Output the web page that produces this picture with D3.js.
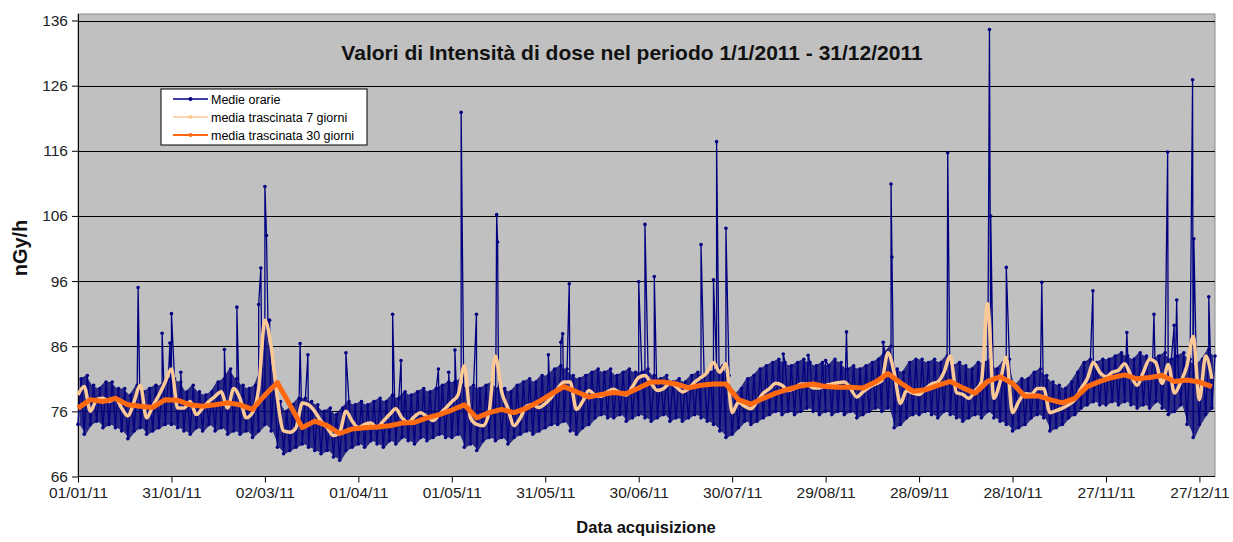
<!DOCTYPE html>
<html>
<head>
<meta charset="utf-8">
<script src="https://cdn.jsdelivr.net/npm/d3@7"></script>
<style>
  body { margin: 0; background: #fff; }
  svg text { font-family: "Liberation Sans", Arial, sans-serif; }
</style>
</head>
<body>
<div id="grafico"></div>
<script>
// giorni campionati ogni 2 giorni (0..364): minimi e massimi delle medie orarie
var minimi = [
  74, 72.5, 74, 74.5, 73.5, 74, 73.5, 73, 71.8, 73, 73.5, 72.5, 73, 73.5, 74,
  74, 73.5, 73, 72.5, 73.5, 73, 74, 73, 73.5, 72.5, 73, 72.5, 73, 72, 73,
  74, 73, 70.5, 69.5, 70, 70.5, 71, 70.5, 70, 69.5, 70, 69, 68.5, 70, 70.5,
  71, 70.5, 71.5, 71, 70.5, 71.5, 71, 72, 71.5, 71, 72, 71.5, 72, 72.5, 72,
  72, 72.5, 70.5, 71, 70, 71.5, 72, 71.5, 72, 71, 72, 72.5, 73, 72.5, 73,
  73.5, 74, 74, 74.5, 73, 72.5, 73.5, 74, 75, 75.5, 75, 75, 75.5, 74.5, 75,
  75.5, 75, 74.5, 75, 75.5, 74.5, 75, 74.5, 75, 75.5, 75, 74.5, 74, 73, 72,
  72.5, 73.5, 74.5, 74, 74.5, 75, 75.5, 76, 75.5, 76, 75.5, 76, 76.5, 76, 75.5,
  76, 75.5, 76, 75.5, 76, 75, 75.5, 76, 76.5, 76, 76.5, 73.5, 74, 75, 75.5,
  75.5, 76, 75.5, 75, 76, 75.5, 75, 74.5, 75, 75.5, 75, 76, 75, 74.5, 74,
  73, 73.5, 74, 75, 75.5, 75, 73, 73.5, 74, 75, 75.5, 76.5, 77, 77.5, 77,
  77, 77.5, 77, 77.5, 77, 76.5, 77, 76.5, 77.5, 76.5, 75.5, 76, 77, 74, 72,
  74, 75.5, 76.5
];
var massimi = [
  81, 81.5, 80, 79.5, 80.5, 80.5, 79.5, 79.5, 78.5, 80, 79, 79.5, 80, 80, 81,
  81, 80.5, 79, 80, 79, 78.5, 79, 80.5, 81, 82.5, 81, 80, 79.5, 80, 82.5,
  89, 82, 77.5, 76, 77, 78, 78, 77.5, 77, 76, 76.5, 75.5, 76.5, 77.5, 77,
  77.5, 77, 77.5, 78, 77.5, 78.5, 78, 79, 78.5, 79, 79.5, 79, 79.5, 80, 80.5,
  80.5, 81, 79.5, 80, 79.5, 80, 80.5, 79.5, 79.5, 79, 80, 80.5, 81, 80.5, 81.5,
  81.5, 82.5, 83, 82.5, 81.5, 81, 81.5, 82, 82.5, 82, 82.5, 81.5, 82, 82.5, 82,
  82, 82.5, 81.5, 81, 81.5, 80.5, 81, 80.5, 81.5, 82, 81.5, 82, 82.5, 83, 81.5,
  78.5, 79.5, 81, 81.5, 82.5, 83, 83.5, 84, 83.5, 83, 83.5, 84, 83.5, 83, 83.5,
  83, 84, 83.5, 82.5, 83, 82.5, 83, 83.5, 84, 85, 86, 82.5, 82, 83.5, 84,
  84, 83.5, 84, 83.5, 84.5, 83, 83.5, 83, 82.5, 83.5, 83.5, 84, 82.5, 83.5, 84,
  80, 81, 81, 82, 82.5, 81.5, 80.5, 80, 79.5, 80.5, 82, 83.5, 84, 83.5, 84,
  84, 84.5, 85, 84.5, 84, 85, 84.5, 84, 84.5, 85, 84, 84.5, 85, 84, 83,
  84, 85.5, 84.5
];
// picchi delle medie orarie (giorno dell'anno, valore)
var giorniPicco = [19.3, 27, 29.5, 30, 33, 47, 51, 58, 58.7, 60, 60.5, 61.5, 71.3, 73.8, 86,
  101, 103.7, 115.7, 119, 121, 123, 127.9, 134.4, 134.7, 151, 155, 155.6, 157.7,
  180, 182, 185, 200, 204, 205, 208, 226.4, 234.4, 240, 246.7, 258.5, 261, 261.3,
  279.2, 292.6, 293, 298, 309.4, 325.8, 336.7, 345.4, 349.8, 351.9, 352.7, 357.8, 358.2, 363];
var valoriPicco = [95, 88, 86.5, 91, 82, 85.5, 92, 92.4, 98, 110.5, 103, 90, 86.4, 84.7, 85,
  90.9, 83.8, 82.5, 82, 85.4, 121.9, 90.9, 106.2, 102, 84.7, 86.6, 87.9, 95.6,
  95.9, 104.7, 96.7, 101.6, 96.2, 117.4, 104.1, 84.8, 84.6, 83.8, 88.2, 86.6, 110.9, 99.7,
  115.7, 134.6, 106, 98.1, 95.8, 94.5, 88.1, 90.9, 115.8, 89.2, 93.1, 126.9, 102.5, 93.6];
// media trascinata 7 giorni, ogni 2 giorni
var media7 = [
  78.5, 79.8, 76, 77.8, 78, 77.5, 78, 76.5, 75.3, 77.5, 80, 75, 76.8, 78.5, 80.5,
  82.5, 76.5, 76.5, 77.5, 75.5, 76.5, 77.5, 78.3, 79, 76.5, 79.5, 78, 75, 75.8, 79.5,
  90, 86, 78, 73, 72.8, 73.5, 77.3, 77, 76, 74.5, 73.5, 72.3, 72.8, 76, 74.5,
  73.5, 74, 74.2, 73.5, 74.5, 75.5, 76.4, 75, 74.3, 75.2, 75.8, 75.2, 74.6, 75.5, 76.5,
  77.5, 78.5, 83, 75, 74, 73.8, 76, 84.5, 79, 76.5, 73.8, 75, 76.8, 77, 76.6,
  77.2, 78.2, 79.5, 80.5, 80.5, 76.3, 77.5, 79.2, 78.5, 78.3, 79, 79.4, 78.8, 78.5, 79.8,
  81.2, 81.5, 80.3, 79.2, 79.5, 80.3, 79.8, 79, 79.5, 80.5, 81.2, 82, 83.5, 82, 83.3,
  75.8, 77.4, 76.8, 76.4, 77.5, 78.8, 79.5, 80.3, 80, 79.2, 79.5, 80.2, 80.2, 79.6, 79.6,
  80, 80.2, 80.4, 80.5, 79.5, 78.2, 79, 79.7, 80.2, 80.7, 85, 82, 77.2, 79.2, 78.8,
  78.6, 79.4, 80.2, 80.5, 82, 84.5, 78.9, 78.6, 78, 79.2, 80.5, 92.5, 78, 80.5, 84.3,
  75.8, 77.5, 78.7, 78.6, 79.5, 79.5, 75.8, 76.1, 76.5, 77, 77.8, 79.5, 81, 83.5, 82,
  81.3, 82, 82.3, 83.3, 81.5, 80, 82, 84, 83.5, 80.3, 83.2, 78.8, 80.5, 83, 87.5,
  77.8, 84.5, 81
];
// media trascinata 30 giorni, ogni 4 giorni
var media30 = [
  76.5, 77.8, 77.5, 78, 77, 76.8, 76.6, 77.8, 77.7, 77, 76.8, 77, 77.3, 77, 76.3,
  78.5, 80.4, 77, 73.5, 74.5, 73.8, 72.6, 73.3, 73.5, 73.6, 73.8, 74.2, 74.3, 75, 75.5,
  76.2, 77, 75, 75.8, 76.3, 75.8, 76.5, 77.5, 78.7, 79.8, 79, 78.2, 78.6, 78.9, 78.7,
  79.6, 80.5, 80.5, 80.2, 79.6, 80, 80.2, 80.2, 77.8, 77.1, 78, 78.8, 79.4, 79.9, 80.2,
  79.8, 79.7, 79.7, 79.6, 80.5, 81.8, 80.4, 79.1, 79.3, 80, 80.6, 79.6, 78.8, 80.6, 81.3,
  80.3, 78.3, 78.4, 77.8, 77.3, 78, 79.8, 80.6, 81.2, 81.6, 81, 81.2, 81.5, 80.6, 80.8,
  80.5, 79.8
];
var etichetteSerie = ["Medie orarie", "media trascinata 7  giorni", "media trascinata 30 giorni"];
var titolo = "Valori di Intensità di dose nel periodo 1/1/2011 - 31/12/2011";

var inizio = Date.UTC(2011, 0, 1);
function data(g) { return new Date(inizio + g * 86400000); }

var svg = d3.select("#grafico").append("svg").attr("width", 1233).attr("height", 542);
var margin = {top: 14, left: 78, right: 1215, bottom: 476.5};

var x = d3.scaleUtc().domain([data(0), data(365)]).range([margin.left, margin.right]);
var y = d3.scaleLinear().domain([66, 136]).range([margin.bottom, 20.5]);

// sfondo area del grafico
svg.append("rect")
    .attr("x", margin.left).attr("y", margin.top)
    .attr("width", margin.right - margin.left).attr("height", margin.bottom - margin.top)
    .attr("fill", "#c0c0c0")
    .attr("stroke", "#8c8c8c").attr("stroke-width", 1);

// griglia
svg.append("g")
    .selectAll("line")
    .data(d3.range(76, 137, 10))
    .enter().append("line")
    .attr("x1", margin.left).attr("x2", margin.right)
    .attr("y1", function (d) { return Math.round(y(d)) + 0.5; })
    .attr("y2", function (d) { return Math.round(y(d)) + 0.5; })
    .attr("stroke", "#000").attr("stroke-width", 1);

// assi
var ticksX = d3.range(0, 361, 30).map(data);
var gx = svg.append("g")
    .attr("transform", "translate(0," + margin.bottom + ")")
    .call(d3.axisBottom(x).tickValues(ticksX).tickFormat(d3.utcFormat("%d/%m/%y")).tickSize(6).tickPadding(4));
gx.selectAll("text").attr("font-size", 15.5).attr("fill", "#222").attr("font-family", "Liberation Sans, Arial");
gx.select(".domain").remove();

var gy = svg.append("g")
    .attr("transform", "translate(" + margin.left + ",0)")
    .call(d3.axisLeft(y).tickValues(d3.range(66, 137, 10)).tickSize(6).tickPadding(4));
gy.selectAll("text").attr("font-size", 15.5).attr("fill", "#222").attr("font-family", "Liberation Sans, Arial");
gy.select(".domain").remove();

svg.append("line").attr("x1", margin.left + 0.5).attr("x2", margin.left + 0.5)
    .attr("y1", margin.top).attr("y2", margin.bottom).attr("stroke", "#000");
svg.append("line").attr("x1", margin.left).attr("x2", margin.right)
    .attr("y1", margin.bottom).attr("y2", margin.bottom).attr("stroke", "#000");

// medie orarie: minimo e massimo per ogni campione, più i picchi
var punti = [];
minimi.forEach(function (v, i) {
    punti.push({g: 2 * i, v: v});
    punti.push({g: 2 * i + 1, v: massimi[i]});
});
giorniPicco.forEach(function (g, i) {
    punti.push({g: g, v: valoriPicco[i]});
});
punti.sort(function (a, b) { return a.g - b.g; });

var fascia = d3.area()
    .x(function (d, i) { return x(data(2 * i + 0.5)); })
    .y0(function (d) { return y(d); })
    .y1(function (d, i) { return y(massimi[i]); });

svg.append("path")
    .datum(minimi)
    .attr("fill", "#0a0a78")
    .attr("opacity", 0.82)
    .attr("d", fascia);

var linea = d3.line()
    .x(function (d) { return x(data(d.g)); })
    .y(function (d) { return y(d.v); });

svg.append("path")
    .datum(punti)
    .attr("fill", "none")
    .attr("stroke", "#000080")
    .attr("stroke-width", 1.3)
    .attr("d", linea);

svg.append("g")
    .selectAll("circle")
    .data(punti)
    .enter().append("circle")
    .attr("cx", function (d) { return x(data(d.g)); })
    .attr("cy", function (d) { return y(d.v); })
    .attr("r", 1.8)
    .attr("fill", "#000080");

// media trascinata 7 giorni
var linea7 = d3.line()
    .curve(d3.curveMonotoneX)
    .x(function (d, i) { return x(data(2 * i)); })
    .y(function (d) { return y(d); });
svg.append("path")
    .datum(media7)
    .attr("fill", "none")
    .attr("stroke", "#fbc996")
    .attr("stroke-width", 3.5)
    .attr("stroke-linejoin", "round")
    .attr("d", linea7);

// media trascinata 30 giorni
var linea30 = d3.line()
    .x(function (d, i) { return x(data(Math.min(4 * i, 365))); })
    .y(function (d) { return y(d); });
svg.append("path")
    .datum(media30)
    .attr("fill", "none")
    .attr("stroke", "#ff6a10")
    .attr("stroke-width", 5)
    .attr("stroke-linejoin", "round")
    .attr("d", linea30);

// titolo
svg.append("text")
    .attr("x", 632).attr("y", 60)
    .attr("text-anchor", "middle")
    .attr("font-size", 21).attr("font-weight", "bold").attr("fill", "#111")
    .text(titolo);

// legenda
var legenda = svg.append("g").attr("transform", "translate(161,89)");
legenda.append("rect")
    .attr("width", 206).attr("height", 56)
    .attr("fill", "#fff").attr("stroke", "#000").attr("stroke-width", 1);
var coloriLegenda = ["#000080", "#fbc996", "#ff6a10"];
var spessori = [1.3, 1.5, 2];
etichetteSerie.forEach(function (t, i) {
    var yy = 10 + i * 18;
    legenda.append("line").attr("x1", 12).attr("x2", 47).attr("y1", yy).attr("y2", yy)
        .attr("stroke", coloriLegenda[i]).attr("stroke-width", spessori[i]);
    legenda.append("circle").attr("cx", 29.5).attr("cy", yy).attr("r", 2)
        .attr("fill", coloriLegenda[i]);
    legenda.append("text").attr("x", 50).attr("y", yy + 4.5)
        .attr("font-size", 12.5).attr("fill", "#000").text(t);
});

// titoli assi
svg.append("text")
    .attr("transform", "translate(27,248) rotate(-90)")
    .attr("text-anchor", "middle")
    .attr("font-size", 20).attr("font-weight", "bold").attr("fill", "#111")
    .text("nGy/h");
svg.append("text")
    .attr("x", 646).attr("y", 533)
    .attr("text-anchor", "middle")
    .attr("font-size", 16.5).attr("font-weight", "bold").attr("fill", "#111")
    .text("Data acquisizione");
</script>
</body>
</html>
